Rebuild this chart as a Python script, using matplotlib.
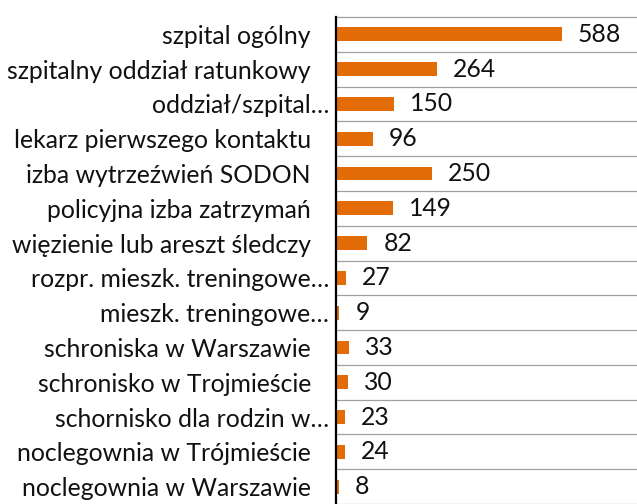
import matplotlib
matplotlib.use("Agg")
import matplotlib.pyplot as plt

# data (top to bottom)
labels = [
    "szpital ogólny",
    "szpitalny oddział ratunkowy",
    "oddział/szpital…",
    "lekarz pierwszego kontaktu",
    "izba wytrzeźwień SODON",
    "policyjna izba zatrzymań",
    "więzienie lub areszt śledczy",
    "rozpr. mieszk. treningowe…",
    "mieszk. treningowe…",
    "schroniska w Warszawie",
    "schronisko w Trojmieście",
    "schornisko dla rodzin w…",
    "noclegownia w Trójmieście",
    "noclegownia w Warszawie",
]
values = [588, 264, 150, 96, 250, 149, 82, 27, 9, 33, 30, 23, 24, 8]

bar_color = "#E36C09"
grid_color = "#A0A0A0"

plt.rcParams['font.family'] = ['Lato', 'DejaVu Sans']

W, H = 637, 504
fig = plt.figure(figsize=(W / 100, H / 100), dpi=100)
ax = fig.add_axes([336 / W, 0, 1 - 336 / W, 1 - 17 / H])

pos = list(range(len(values)))
ax.barh(pos, values, height=0.4, color=bar_color, zorder=3)

ax.set_xlim(0, 784)
ax.set_ylim(13.28, -0.5)

# category separators
ax.set_yticks([p + 0.5 for p in pos], minor=True)
ax.grid(True, axis='y', which='minor', color=grid_color, lw=0.9, zorder=1)
ax.tick_params(axis='y', which='minor', length=0)

ax.set_yticks(pos)
ax.set_yticklabels(labels, fontsize=17.8, color='#111111')
ax.tick_params(axis='y', which='major', length=0)
for t, lab in zip(ax.yaxis.get_major_ticks(), labels):
    t.set_pad(5 if lab.endswith("…") else 18)

ax.set_xticks([])
for s in ['right', 'bottom']:
    ax.spines[s].set_visible(False)
ax.spines['top'].set_color(grid_color)
ax.spines['top'].set_linewidth(0.9)
ax.spines['left'].set_color('black')
ax.spines['left'].set_linewidth(1.6)
ax.spines['left'].set_zorder(4)

for p, v in zip(pos, values):
    ax.annotate(str(v), (v, p), xytext=(16, 0), textcoords='offset pixels',
                ha='left', va='center', fontsize=17.8, color='#111111')

fig.savefig("out.png", dpi=100)
